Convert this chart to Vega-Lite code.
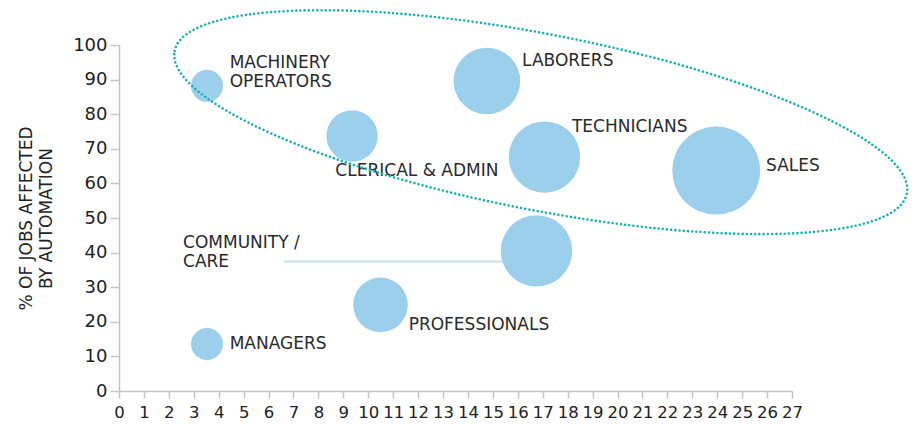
{
  "$schema": "https://vega.github.io/schema/vega-lite/v6.json",
  "width": 673,
  "height": 346,
  "autosize": {"type": "none"},
  "padding": {"left": 119, "top": 45, "right": 127, "bottom": 33},
  "background": "white",
  "config": {
    "view": {"stroke": null},
    "axis": {
      "grid": false,
      "domainColor": "#c4c4c4",
      "tickColor": "#c4c4c4",
      "domainWidth": 1.5,
      "tickWidth": 1.5,
      "labelFont": "DejaVu Sans",
      "labelColor": "#222222",
      "labelFlush": false,
      "labelOverlap": false,
      "titleFont": "DejaVu Sans",
      "titleFontSize": 17,
      "titleFontWeight": "normal",
      "titleColor": "#222222"
    },
    "axisX": {"tickSize": 7, "labelPadding": 6, "labelFontSize": 16.5},
    "axisY": {"tickSize": 9, "labelPadding": 3, "labelFontSize": 18, "titlePadding": 17, "titleLineHeight": 20}
  },
  "datasets": {
    "jobs": [
      {"group": "MACHINERY OPERATORS", "jobs": 3.53, "pct": 88.2, "size": 256, "label": "MACHINERY\nOPERATORS", "lx": 4.44, "ly": 94.9},
      {"group": "LABORERS", "jobs": 14.76, "pct": 89.6, "size": 1110, "label": "LABORERS", "lx": 16.17, "ly": 95.5},
      {"group": "CLERICAL & ADMIN", "jobs": 9.35, "pct": 73.7, "size": 660, "label": "CLERICAL & ADMIN", "lx": 8.68, "ly": 63.6},
      {"group": "TECHNICIANS", "jobs": 17.07, "pct": 67.6, "size": 1275, "label": "TECHNICIANS", "lx": 18.17, "ly": 76.4},
      {"group": "SALES", "jobs": 23.96, "pct": 63.7, "size": 1936, "label": "SALES", "lx": 25.96, "ly": 64.9},
      {"group": "COMMUNITY / CARE", "jobs": 16.75, "pct": 40.5, "size": 1275, "label": "COMMUNITY /\nCARE", "lx": 2.57, "ly": 42.9},
      {"group": "PROFESSIONALS", "jobs": 10.49, "pct": 24.9, "size": 745, "label": "PROFESSIONALS", "lx": 11.62, "ly": 19.1},
      {"group": "MANAGERS", "jobs": 3.53, "pct": 13.6, "size": 256, "label": "MANAGERS", "lx": 4.44, "ly": 13.6}
    ],
    "leader": [
      {"x1": 6.6, "x2": 16.75, "y": 37.4}
    ],
    "highlight": [
      {"cx": 16.92, "cy": 77.7}
    ]
  },
  "layer": [
    {
      "data": {"name": "leader"},
      "mark": {"type": "rule", "color": "#c6e3f4", "strokeWidth": 2},
      "encoding": {
        "x": {"field": "x1", "type": "quantitative", "scale": {"domain": [0, 27], "nice": false, "zero": false},
          "axis": {"values": [0,1,2,3,4,5,6,7,8,9,10,11,12,13,14,15,16,17,18,19,20,21,22,23,24,25,26,27], "title": null}},
        "x2": {"field": "x2"},
        "y": {"field": "y", "type": "quantitative", "scale": {"domain": [0, 100], "nice": false},
          "axis": {"values": [0,10,20,30,40,50,60,70,80,90,100], "title": ["% OF JOBS AFFECTED", "BY AUTOMATION"]}}
      }
    },
    {
      "data": {"name": "jobs"},
      "mark": {"type": "point", "shape": "circle", "filled": true, "opacity": 1, "color": "#9bcfec"},
      "encoding": {
        "x": {"field": "jobs", "type": "quantitative",
          "axis": {"values": [0,1,2,3,4,5,6,7,8,9,10,11,12,13,14,15,16,17,18,19,20,21,22,23,24,25,26,27], "title": null}},
        "y": {"field": "pct", "type": "quantitative",
          "axis": {"values": [0,10,20,30,40,50,60,70,80,90,100], "title": ["% OF JOBS AFFECTED", "BY AUTOMATION"]}},
        "size": {"field": "size", "type": "quantitative", "scale": {"type": "linear", "domain": [0, 2000], "range": [0, 8000]}, "legend": null}
      }
    },
    {
      "data": {"name": "jobs"},
      "mark": {"type": "text", "align": "left", "baseline": "middle", "font": "DejaVu Sans", "fontSize": 17, "color": "#2a2a2a", "lineBreak": "\n", "lineHeight": 19},
      "encoding": {
        "x": {"field": "lx", "type": "quantitative",
          "axis": {"values": [0,1,2,3,4,5,6,7,8,9,10,11,12,13,14,15,16,17,18,19,20,21,22,23,24,25,26,27], "title": null}},
        "y": {"field": "ly", "type": "quantitative",
          "axis": {"values": [0,10,20,30,40,50,60,70,80,90,100], "title": ["% OF JOBS AFFECTED", "BY AUTOMATION"]}},
        "text": {"field": "label"}
      }
    },
    {
      "data": {"name": "highlight"},
      "mark": {
        "type": "point",
        "shape": "M-1,0C-1,-0.1303,-0.5523,-0.2359,0,-0.2359C0.5523,-0.2359,1,-0.1303,1,0C1,0.1303,0.5523,0.2359,0,0.2359C-0.5523,0.2359,-1,0.1303,-1,0Z",
        "size": 556516,
        "angle": 11,
        "filled": false,
        "stroke": "#17b1b0",
        "strokeWidth": 2.6,
        "strokeDash": [0.01, 4.2],
        "strokeCap": "round",
        "opacity": 1
      },
      "encoding": {
        "x": {"field": "cx", "type": "quantitative",
          "axis": {"values": [0,1,2,3,4,5,6,7,8,9,10,11,12,13,14,15,16,17,18,19,20,21,22,23,24,25,26,27], "title": null}},
        "y": {"field": "cy", "type": "quantitative",
          "axis": {"values": [0,10,20,30,40,50,60,70,80,90,100], "title": ["% OF JOBS AFFECTED", "BY AUTOMATION"]}}
      }
    }
  ]
}
